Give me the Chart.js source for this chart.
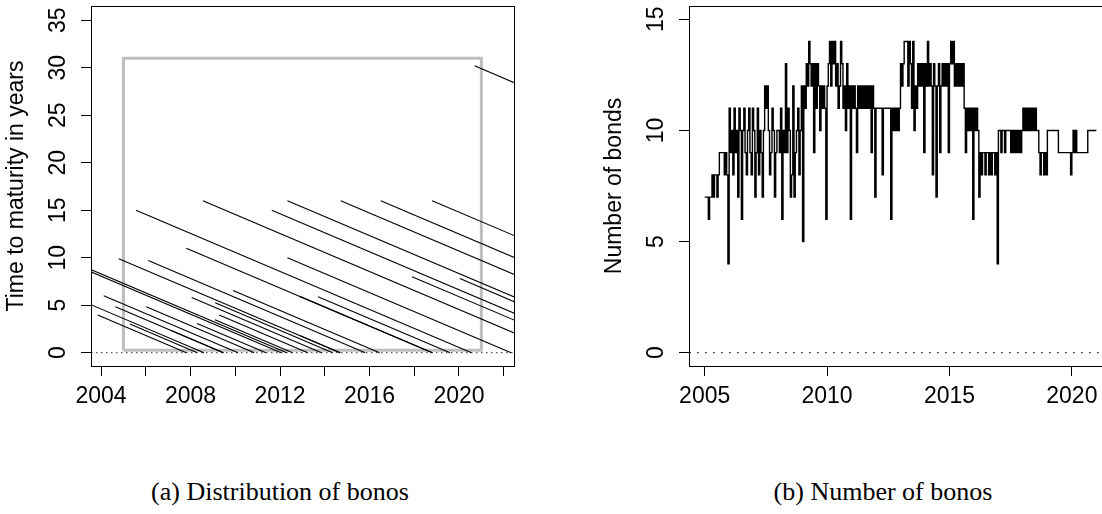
<!DOCTYPE html>
<html>
<head>
<meta charset="utf-8">
<script src="https://cdn.jsdelivr.net/npm/chart.js@4.4.1/dist/chart.umd.min.js"></script>
<style>
  html, body { margin: 0; padding: 0; overflow: hidden; background: #fff; }
  body { width: 1102px; height: 514px; position: relative; }
  canvas { position: absolute; top: 0; }
  #distChart { left: 0; }
  #countChart { left: 598px; }
  .caption { position: absolute; top: 476px; width: 400px; text-align: center;
             font-family: 'Liberation Serif', serif; font-size: 26px; line-height: 32px; color: #000; }
</style>
</head>
<body>
<canvas id="distChart" width="551" height="440"></canvas>
<canvas id="countChart" width="551" height="440"></canvas>
<div class="caption" style="left:80px">(a) Distribution of bonos</div>
<div class="caption" style="left:683px">(b) Number of bonos</div>
<script>
// ---------------- data: panel (a), one line per bond -----------------
// issue date and maturity date (decimal years)
const bondIssue = [2008.55, 2005.56, 2012.33, 2011.63, 2007.81, 2012.33, 2004.79, 2006.11,
                   2003.20, 2003.20, 2009.90, 2004.12, 2008.05, 2003.20, 2009.10, 2004.64,
                   2006.02, 2009.28, 2003.85, 2009.09, 2005.29, 2008.29, 2007.13, 2012.88,
                   2013.70, 2017.90, 2020.04, 2012.88, 2014.71, 2016.50, 2018.80, 2020.70];
const bondMaturity = [2024.55, 2020.56, 2028.33, 2026.63, 2018.81, 2022.33, 2014.69, 2015.81,
                      2012.30, 2012.05, 2016.45, 2010.12, 2013.85, 2008.60, 2014.35, 2009.47,
                      2010.85, 2013.24, 2007.81, 2012.56, 2008.30, 2011.37, 2009.47, 2018.81,
                      2019.60, 2025.90, 2027.84, 2014.69, 2030.71, 2032.50, 2034.80, 2050.90];

// grey sample window
const windowYears = [2005, 2021];
const windowLevels = [0.25, 31];

const distYTicks = [0, 5, 10, 15, 20, 25, 30, 35];
const distXTicks = [2004, 2006, 2008, 2010, 2012, 2014, 2016, 2018, 2020, 2022];
const distXLabels = [2004, 2008, 2012, 2016, 2020];

// ---------------- data: panel (b), number of bonds -----------------
// values every 0.05 years, one row per calendar year
const countStep = 0.05;
const counts2005 = [7,7,7,6,7,7,8,7,8,8,7,8,9,9,9,9,8,9,8,4];
const counts2006 = [11,9,10,8,11,9,10,7,11,10,6,10,11,9,8,10,11,9,8,11];
const counts2007 = [10,7,9,11,8,10,9,7,10,12,11,12,10,8,9,11,10,7,9,10];
const counts2008 = [10,9,11,6,10,9,13,9,11,10,7,8,12,7,9,10,11,8,10,12];
const counts2009 = [5,12,11,13,12,14,13,12,13,9,13,11,13,12,10,12,11,12,11,6];
const counts2010 = [12,13,14,12,14,13,14,12,13,11,12,14,13,11,12,10,13,11,12,6];
const counts2011 = [12,11,12,11,9,12,11,12,11,12,11,12,11,12,11,12,9,12,11,7];
const counts2012 = [11,11,11,11,11,8,11,11,11,11,11,11,6,11,10,11,10,11,10,11];
const counts2013 = [13,12,13,14,14,14,12,14,13,11,14,10,12,11,13,12,13,12,13,9];
const counts2014 = [13,12,14,12,13,12,8,13,12,7,12,13,9,12,13,12,13,12,13,9];
const counts2015 = [13,14,13,14,12,13,12,13,12,13,12,13,11,9,11,10,11,10,11,6];
const counts2016 = [11,10,11,10,7,9,8,9,9,8,9,9,8,9,8,9,9,8,9,4];
const counts2017 = [10,10,9,10,10,9,10,10,10,10,9,10,9,10,9,10,9,10,9,10];
const counts2018 = [11,10,11,10,11,10,11,10,11,10,11,10,10,9,8,9,9,8,9,8];
const counts2019 = [10,10,10,10,10,10,10,10,10,9,9,9,9,9,9,9,9,9,9,8];
const counts2020 = [9,10,9,10,9,9,9,9,9,9,9,9,9,10,10,10,10,10,10,10];
const countFinalYear = 2021;
const countFinal = 10;

const countYears = [2005, 2006, 2007, 2008, 2009, 2010, 2011, 2012,
                    2013, 2014, 2015, 2016, 2017, 2018, 2019, 2020];
const countRows = [counts2005, counts2006, counts2007, counts2008, counts2009, counts2010,
                   counts2011, counts2012, counts2013, counts2014, counts2015, counts2016,
                   counts2017, counts2018, counts2019, counts2020];

const countYTicks = [0, 5, 10, 15];
const countXTicks = [2005, 2010, 2015, 2020];

// ---------------- shared look -----------------
const FONT = { family: "'Liberation Sans', Arial, sans-serif", size: 23 };

// frame round the plot region, like R's box()
const boxPlugin = {
  id: 'rbox',
  afterDatasetsDraw(chart) {
    const { ctx, chartArea: a } = chart;
    ctx.save();
    ctx.strokeStyle = '#000';
    ctx.lineWidth = 1;
    ctx.strokeRect(Math.round(a.left) + 0.5, Math.round(a.top) + 0.5,
                   Math.round(a.right - a.left), Math.round(a.bottom - a.top));
    ctx.restore();
  }
};

function xAxis(min, max, tickVals, labelVals) {
  return {
    type: 'linear', min: min, max: max,
    afterBuildTicks: s => { s.ticks = tickVals.map(v => ({ value: v })); },
    afterFit: s => { s.height = 74; s.paddingLeft = 0; s.paddingRight = 0; },
    ticks: { autoSkip: false, maxRotation: 0, padding: 7, color: '#000', font: FONT,
             callback: v => labelVals.includes(v) ? String(v) : '' },
    grid: { drawOnChartArea: false, tickLength: 10, tickColor: '#000', color: '#000' },
    border: { display: false }
  };
}

function yAxis(min, max, tickVals, title) {
  return {
    type: 'linear', min: min, max: max,
    afterBuildTicks: s => { s.ticks = tickVals.map(v => ({ value: v })); },
    afterFit: s => { s.width = 91; s.paddingTop = 0; s.paddingBottom = 0; },
    ticks: { minRotation: 90, maxRotation: 90, crossAlign: 'center', padding: 10,
             color: '#000', font: FONT, callback: v => String(v) },
    grid: { drawOnChartArea: false, tickLength: 10, tickColor: '#000', color: '#000' },
    border: { display: false },
    title: { display: true, text: title, color: '#000', font: FONT, padding: { top: 3, bottom: 0 } }
  };
}

const baseOptions = {
  responsive: false,
  animation: false,
  layout: { padding: { top: 6, right: 37, bottom: 0, left: 0 } },
  plugins: { legend: { display: false }, tooltip: { enabled: false } }
};

// ---------------- panel (a) -----------------
const distMin = 2003.55, distMax = 2022.46;

const bondSets = bondIssue.map((start, i) => ({
  data: [{ x: start, y: bondMaturity[i] - start }, { x: bondMaturity[i], y: 0 }],
  showLine: true, borderColor: '#000', borderWidth: 1.1, pointRadius: 0, clip: 0, order: 1
}));

new Chart(document.querySelector('#distChart'), {
  type: 'scatter',
  data: {
    datasets: [
      ...bondSets,
      {
        data: [{ x: windowYears[0], y: windowLevels[0] }, { x: windowYears[0], y: windowLevels[1] },
               { x: windowYears[1], y: windowLevels[1] }, { x: windowYears[1], y: windowLevels[0] },
               { x: windowYears[0], y: windowLevels[0] }],
        showLine: true, borderColor: '#bebebe', borderWidth: 3, borderJoinStyle: 'miter',
        pointRadius: 0, clip: 0, order: 3
      },
      {
        data: [{ x: distMin, y: 0 }, { x: distMax, y: 0 }],
        showLine: true, borderColor: '#333', borderWidth: 1, borderDash: [1.5, 3.5],
        pointRadius: 0, clip: 0, order: 2
      }
    ]
  },
  options: {
    ...baseOptions,
    scales: {
      x: xAxis(distMin, distMax, distXTicks, distXLabels),
      y: yAxis(-1.4, 36.5, distYTicks, 'Time to maturity in years')
    }
  },
  plugins: [boxPlugin]
});

// ---------------- panel (b) -----------------
const countMin = 2004.36, countMax = 2021.64;

const countPoints = [];
countYears.forEach((yr, k) => {
  countRows[k].forEach((v, i) => countPoints.push({ x: yr + i * countStep, y: v }));
});
countPoints.push({ x: countFinalYear, y: countFinal });

new Chart(document.querySelector('#countChart'), {
  type: 'scatter',
  data: {
    datasets: [
      {
        data: countPoints, showLine: true, stepped: true,
        borderColor: '#000', borderWidth: 1.4, pointRadius: 0, clip: 0, order: 1
      },
      {
        data: [{ x: countMin, y: 0 }, { x: countMax, y: 0 }],
        showLine: true, borderColor: '#333', borderWidth: 1, borderDash: [2, 6],
        pointRadius: 0, clip: 0, order: 2
      }
    ]
  },
  options: {
    ...baseOptions,
    scales: {
      x: xAxis(countMin, countMax, countXTicks, countXTicks),
      y: yAxis(-0.6, 15.6, countYTicks, 'Number of bonds')
    }
  },
  plugins: [boxPlugin]
});
</script>
</body>
</html>
